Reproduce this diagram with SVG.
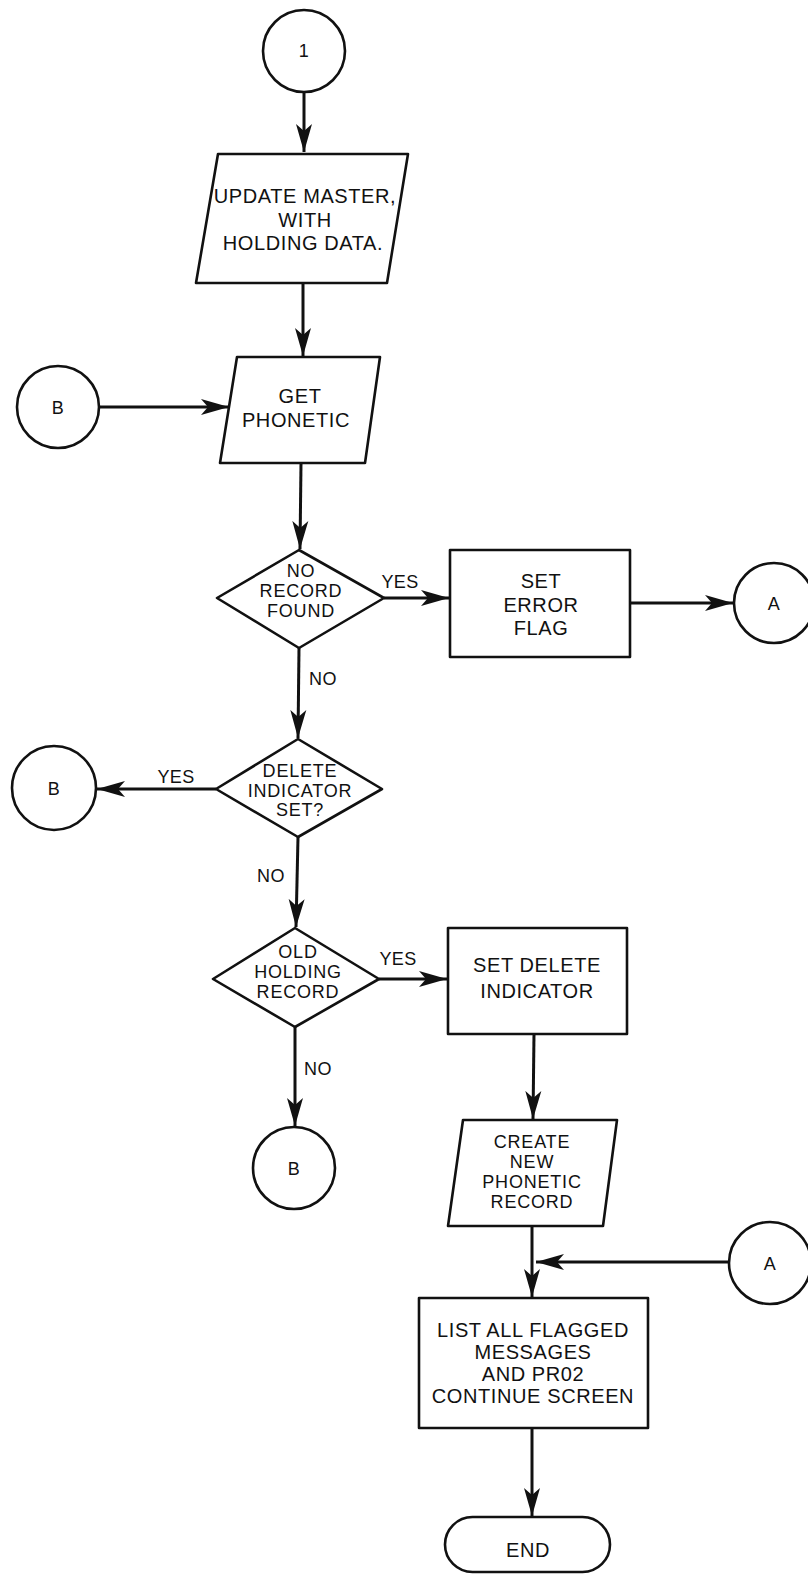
<svg xmlns="http://www.w3.org/2000/svg" width="808" height="1575" viewBox="0 0 808 1575">
<defs>
<marker id="ah" markerUnits="userSpaceOnUse" markerWidth="30" markerHeight="18" refX="28" refY="9" orient="auto">
<path d="M0,1 L28,9 L0,17 L7,9 Z" fill="#111"/>
</marker>
<style>
.s{fill:none;stroke:#111;stroke-width:2.6;stroke-linejoin:round}
.c{fill:none;stroke:#111;stroke-width:3;marker-end:url(#ah)}
.t{font-family:"Liberation Sans",Arial,sans-serif;font-size:20px;letter-spacing:0.6px;fill:#111;text-anchor:middle}
.d{font-family:"Liberation Sans",Arial,sans-serif;font-size:18px;letter-spacing:0.8px;fill:#111;text-anchor:middle}
.l{font-family:"Liberation Sans",Arial,sans-serif;font-size:18px;letter-spacing:0.4px;fill:#111;text-anchor:middle}
</style>
</defs>
<rect width="808" height="1575" fill="#fff"/>
<g id="connectors">
<path class="c" d="M304,92 L304,152"/>
<path class="c" d="M303,283 L303,356"/>
<path class="c" d="M100,407 L229,407"/>
<path class="c" d="M301,463 L300,549"/>
<path class="c" d="M384,598 L449,598"/>
<path class="c" d="M630,603 L733,603"/>
<path class="c" d="M299,648 L298,738"/>
<path class="c" d="M216,789 L97,789"/>
<path class="c" d="M298,837 L296,927"/>
<path class="c" d="M379,979 L447,979"/>
<path class="c" d="M295,1027 L295,1126"/>
<path class="c" d="M534,1034 L533,1119"/>
<path class="c" d="M532,1226 L532,1297"/>
<path class="c" d="M730,1262 L536,1262"/>
<path class="c" d="M532,1428 L532,1516"/>
<text class="l" x="400" y="588">YES</text>
<text class="l" x="323" y="685">NO</text>
<text class="l" x="176" y="783">YES</text>
<text class="l" x="271" y="882">NO</text>
<text class="l" x="398" y="965">YES</text>
<text class="l" x="318" y="1075">NO</text>
</g>
<g id="start1">
<circle class="s" cx="304" cy="51" r="41"/>
<text class="l" x="304" y="57">1</text>
</g>
<g id="update">
<polygon class="s" points="218,154 408,154 387,283 196,283"/>
<text class="t" x="305" y="203">UPDATE MASTER,</text>
<text class="t" x="305" y="227">WITH</text>
<text class="t" x="303" y="250">HOLDING DATA.</text>
</g>
<g id="getphon">
<polygon class="s" points="237,357 380,357 365,463 220,463"/>
<text class="t" x="300" y="403">GET</text>
<text class="t" x="296" y="427">PHONETIC</text>
</g>
<g id="b1">
<circle class="s" cx="58" cy="407" r="41"/>
<text class="l" x="58" y="414">B</text>
</g>
<g id="norecord">
<polygon class="s" points="299,550 384,598 299,648 217,598"/>
<text class="d" x="301" y="577">NO</text>
<text class="d" x="301" y="597">RECORD</text>
<text class="d" x="301" y="617">FOUND</text>
</g>
<g id="seterror">
<rect class="s" x="450" y="550" width="180" height="107"/>
<text class="t" x="541" y="588">SET</text>
<text class="t" x="541" y="612">ERROR</text>
<text class="t" x="541" y="635">FLAG</text>
</g>
<g id="a1">
<circle class="s" cx="774" cy="603" r="40"/>
<text class="l" x="774" y="610">A</text>
</g>
<g id="deleteset">
<polygon class="s" points="298,739 382,789 298,837 216,789"/>
<text class="d" x="300" y="777">DELETE</text>
<text class="d" x="300" y="797">INDICATOR</text>
<text class="d" x="300" y="816">SET?</text>
</g>
<g id="b2">
<circle class="s" cx="54" cy="788" r="42"/>
<text class="l" x="54" y="795">B</text>
</g>
<g id="oldholding">
<polygon class="s" points="295,928 379,979 295,1027 213,979"/>
<text class="d" x="298" y="958">OLD</text>
<text class="d" x="298" y="978">HOLDING</text>
<text class="d" x="298" y="998">RECORD</text>
</g>
<g id="setdelete">
<rect class="s" x="448" y="928" width="179" height="106"/>
<text class="t" x="537" y="972">SET DELETE</text>
<text class="t" x="537" y="998">INDICATOR</text>
</g>
<g id="b3">
<circle class="s" cx="294" cy="1168" r="41"/>
<text class="l" x="294" y="1175">B</text>
</g>
<g id="create">
<polygon class="s" points="463,1120 617,1120 603,1226 448,1226"/>
<text class="d" x="532" y="1148">CREATE</text>
<text class="d" x="532" y="1168">NEW</text>
<text class="d" x="532" y="1188">PHONETIC</text>
<text class="d" x="532" y="1208">RECORD</text>
</g>
<g id="a2">
<circle class="s" cx="770" cy="1263" r="41"/>
<text class="l" x="770" y="1270">A</text>
</g>
<g id="listall">
<rect class="s" x="419" y="1298" width="229" height="130"/>
<text class="t" x="533" y="1337">LIST ALL FLAGGED</text>
<text class="t" x="533" y="1359">MESSAGES</text>
<text class="t" x="533" y="1381">AND PR02</text>
<text class="t" x="533" y="1403">CONTINUE SCREEN</text>
</g>
<g id="end">
<rect class="s" x="445" y="1517" width="165" height="55" rx="27.5"/>
<text class="t" x="528" y="1557">END</text>
</g>
</svg>
